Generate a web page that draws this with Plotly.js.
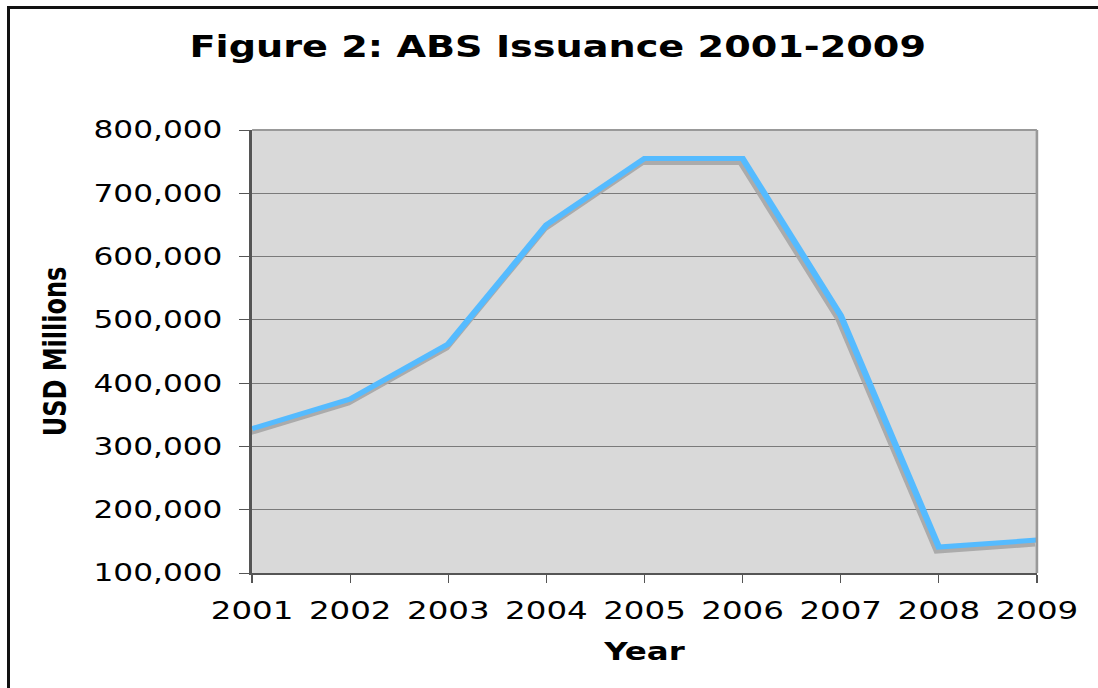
<!DOCTYPE html>
<html>
<head>
<meta charset="utf-8">
<script src="https://cdn.plot.ly/plotly-3.0.1.min.js"></script>
<style>
  html, body { margin: 0; padding: 0; background: #fff; overflow: hidden; width: 1098px; height: 688px; }
  #frame { position: absolute; left: 7px; top: 6px; width: 1300px; height: 900px; border: 3px solid #111; box-sizing: border-box; pointer-events: none; z-index: 2; }
  #wrap { position: absolute; left: 0; top: 0; width: 845px; height: 688px; transform: scaleX(1.2994); transform-origin: 0 0; }
</style>
</head>
<body>
<div id="wrap"><div id="chart" style="width:845px;height:688px;"></div></div>
<div id="frame"></div>
<script>
// Data
const years = [2001, 2002, 2003, 2004, 2005, 2006, 2007, 2008, 2009];
const issuance = [328000, 375000, 462000, 650000, 755000, 755000, 507000, 141000, 152000];
const yTicks = [100000, 200000, 300000, 400000, 500000, 600000, 700000, 800000];
const yTickText = ['100,000', '200,000', '300,000', '400,000', '500,000', '600,000', '700,000', '800,000'];
const xTickText = years.map(String);

const fam = 'DejaVu Sans, Verdana, sans-serif';

const shadow = {
  x: years, y: issuance, type: 'scatter', mode: 'lines',
  xaxis: 'x2', yaxis: 'y2',
  line: { color: 'rgba(165,165,165,0.9)', width: 5 },
  hoverinfo: 'skip', showlegend: false
};
const main = {
  x: years, y: issuance, type: 'scatter', mode: 'lines',
  xaxis: 'x3', yaxis: 'y3',
  name: 'ABS Issuance',
  line: { color: '#55bbff', width: 5 },
  showlegend: false
};
// invisible anchor trace so the base axes (ticks/grid) are drawn
const base = {
  x: years, y: issuance, type: 'scatter', mode: 'lines',
  line: { color: 'rgba(0,0,0,0)', width: 0 },
  hoverinfo: 'skip', showlegend: false
};

const layout = {
  width: 845, height: 688,
  margin: { l: 194, r: 47, t: 130, b: 115 },
  paper_bgcolor: '#ffffff',
  plot_bgcolor: '#d9d9d9',
  title: {
    text: '<b>Figure 2: ABS Issuance 2001-2009</b>',
    font: { family: fam, size: 29.4, color: '#000' },
    x: 0.508, xanchor: 'center', xref: 'container',
    y: 1 - 47 / 688, yanchor: 'middle', yref: 'container'
  },
  xaxis: {
    range: [2001, 2009],
    tickvals: years, ticktext: xTickText,
    tickfont: { family: fam, size: 25, color: '#000' },
    ticks: 'outside', ticklen: 8, tickwidth: 1, tickcolor: '#555',
    showgrid: false, zeroline: false,
    showline: true, linecolor: '#555', linewidth: 2,
    ticklabelstandoff: 6,
    title: { text: '<b>Year</b>', font: { family: fam, size: 25, color: '#000' }, standoff: 19 },
    automargin: false, fixedrange: true
  },
  yaxis: {
    range: [100000, 800000],
    tickvals: yTicks, ticktext: yTickText,
    tickfont: { family: fam, size: 24, color: '#000' },
    ticks: 'outside', ticklen: 8, tickwidth: 1, tickcolor: '#555',
    showgrid: true, gridcolor: '#7a7a7a', gridwidth: 1,
    zeroline: false,
    showline: true, linecolor: '#555', linewidth: 2,
    ticklabelstandoff: 8,
    title: { text: '<b>USD Millions</b>', font: { family: fam, size: 24, color: '#000' }, standoff: 14 },
    automargin: false, fixedrange: true
  },
  xaxis2: { overlaying: 'x', range: [2001 + 0.02, 2009 + 0.02], visible: false, fixedrange: true },
  yaxis2: { overlaying: 'y', range: [100000 + 6300, 800000 + 6300], visible: false, fixedrange: true },
  xaxis3: { overlaying: 'x', range: [2001, 2009], visible: false, fixedrange: true },
  yaxis3: { overlaying: 'y', range: [100000, 800000], visible: false, fixedrange: true },
  shapes: [
    { type: 'line', xref: 'paper', yref: 'paper', x0: 0, x1: 1, y0: 1, y1: 1, line: { color: '#999', width: 2 }, layer: 'above' },
    { type: 'line', xref: 'paper', yref: 'paper', x0: 1, x1: 1, y0: 0, y1: 1, line: { color: '#999', width: 2 }, layer: 'above' }
  ],
  showlegend: false
};

Plotly.newPlot('chart', [base, shadow, main], layout, { displayModeBar: false, staticPlot: true });
</script>
</body>
</html>
